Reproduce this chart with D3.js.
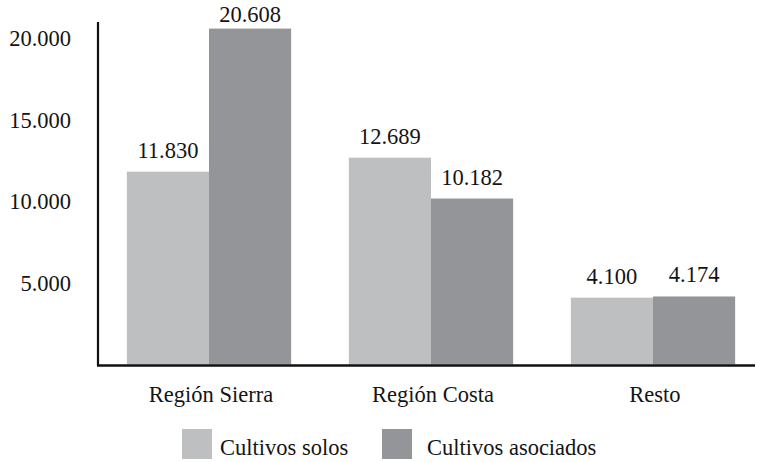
<!DOCTYPE html>
<html>
<head>
<meta charset="utf-8">
<script src="https://cdn.jsdelivr.net/npm/d3@7"></script>
<style>
  html, body { margin: 0; padding: 0; background: #fff; }
  svg text { font-family: "Liberation Serif", "DejaVu Serif", serif; }
</style>
</head>
<body>
<svg id="chart" width="757" height="462"></svg>
<script>
// Superficie por región (hectáreas)
const categories = ["Región Sierra", "Región Costa", "Resto"];
const seriesNames = ["Cultivos solos", "Cultivos asociados"];
const solos = [11830, 12689, 4100];
const asociados = [20608, 10182, 4174];
const yTicks = [5000, 10000, 15000, 20000];
const colors = ["#bebfc1", "#949599"];

const rows = categories.map((c, i) => ({ cat: c, values: [solos[i], asociados[i]] }));

const es = d3.formatLocale({ decimal: ",", thousands: ".", grouping: [3], currency: ["", ""] });
const fmt = es.format(",d");

const svg = d3.select("#chart");
const ink = "#141414";
const fontSize = 22.5;
const serif = "'Liberation Serif', 'DejaVu Serif', serif";

const axisX = 98, baseY = 364.5;

const x0 = d3.scaleBand().domain(categories).range([axisX, 764])
  .paddingInner(0.26).paddingOuter(0.13);
const x1 = d3.scaleBand().domain(d3.range(seriesNames.length)).range([0, x0.bandwidth()]);
const y = d3.scaleLinear().domain([0, 20000]).range([baseY, 38.5]);

// Bars
const groups = svg.append("g").selectAll("g").data(rows).join("g")
  .attr("transform", d => `translate(${x0(d.cat)},0)`);

groups.selectAll("rect").data(d => d.values.map((v, k) => ({ v, k }))).join("rect")
  .attr("x", d => x1(d.k))
  .attr("width", x1.bandwidth())
  .attr("y", d => y(d.v))
  .attr("height", d => y(0) - y(d.v))
  .attr("fill", d => colors[d.k]);

// Value labels
groups.selectAll("text").data(d => d.values.map((v, k) => ({ v, k }))).join("text")
  .attr("x", d => x1(d.k) + x1.bandwidth() / 2)
  .attr("y", d => Math.max(y(d.v) - 14, 22))
  .attr("text-anchor", "middle")
  .attr("font-family", serif)
  .attr("font-size", fontSize)
  .attr("fill", ink)
  .text(d => fmt(d.v));

// Y axis labels (no tick marks)
const yAxis = d3.axisLeft(y).tickValues(yTicks).tickFormat(fmt).tickSize(0).tickPadding(27);
const yg = svg.append("g").attr("transform", `translate(${axisX},0)`).call(yAxis)
  .attr("font-family", serif).attr("font-size", fontSize);
yg.select(".domain").remove();
yg.selectAll("text").attr("fill", ink);

// Axis lines
svg.append("line").attr("x1", axisX).attr("x2", axisX).attr("y1", 22).attr("y2", 366)
  .attr("stroke", "#111").attr("stroke-width", 2.2);
svg.append("line").attr("x1", axisX - 1).attr("x2", 755).attr("y1", 365.5).attr("y2", 365.5)
  .attr("stroke", "#111").attr("stroke-width", 2.5);

// Category labels
svg.append("g").selectAll("text").data(categories).join("text")
  .attr("x", d => x0(d) + x0.bandwidth() / 2 + 2)
  .attr("y", 402)
  .attr("text-anchor", "middle")
  .attr("font-family", serif)
  .attr("font-size", fontSize)
  .attr("fill", ink)
  .text(d => d);

// Legend
const legendX = [182, 382];
const legend = svg.append("g").selectAll("g").data(seriesNames).join("g")
  .attr("transform", (d, i) => `translate(${legendX[i]},429)`);
legend.append("rect").attr("width", 30).attr("height", 30).attr("fill", (d, i) => colors[i]);
legend.append("text").attr("x", (d, i) => i === 0 ? 38 : 45).attr("y", 26)
  .attr("font-family", serif)
  .attr("font-size", fontSize).attr("fill", ink).text(d => d);
</script>
</body>
</html>
